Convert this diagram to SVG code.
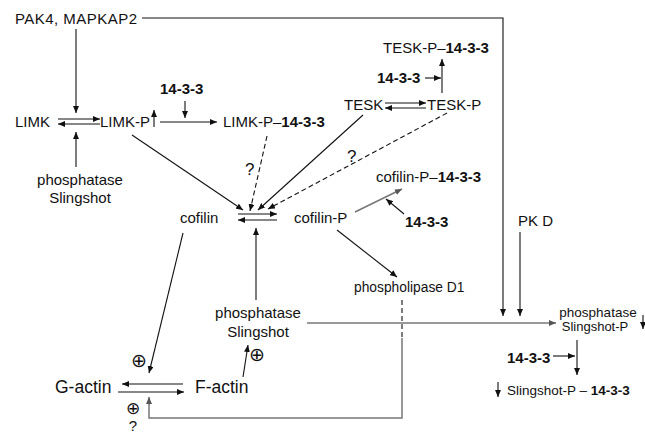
<svg xmlns="http://www.w3.org/2000/svg" width="645" height="433" viewBox="0 0 645 433">
<style>
text{font-family:"Liberation Sans",Arial,sans-serif;font-size:15px;fill:#111}
.b{font-weight:bold}
.q{font-size:17px}
.c{stroke:#111;stroke-width:1.1;fill:none}
.g{stroke:#777;stroke-width:1.5;fill:none}
.d{stroke-dasharray:5,3}
.a{marker-end:url(#ah)}
.ag{marker-end:url(#ahg)}
.sym{font-family:"DejaVu Sans",sans-serif;font-size:19px}
</style>
<defs>
<marker id="ah" markerUnits="userSpaceOnUse" markerWidth="8" markerHeight="6" refX="7" refY="3" orient="auto"><path d="M0,0 L7,3 L0,6 z" fill="#111"/></marker>
<marker id="ahg" markerUnits="userSpaceOnUse" markerWidth="8" markerHeight="6" refX="7" refY="3" orient="auto"><path d="M0,0 L7,3 L0,6 z" fill="#555"/></marker>
</defs>
<rect width="645" height="433" fill="#fff"/>
<g id="connectors">
<polyline class="c a" points="142,18 503,18 503,316"/>
<line class="c a" x1="76" y1="29" x2="76" y2="113"/>
<line class="c a" x1="76" y1="167" x2="76" y2="132"/>
<line class="c a" x1="58" y1="119" x2="100" y2="119"/>
<line class="c a" x1="100" y1="124" x2="58" y2="124"/>
<line class="c a" x1="154" y1="127" x2="154" y2="110"/>
<line class="c a" x1="160" y1="122" x2="217" y2="122"/>
<line class="c a" x1="185" y1="101" x2="185" y2="118"/>
<line class="c a" x1="132" y1="135" x2="243" y2="210"/>
<line class="c d a" x1="267" y1="136" x2="250" y2="211"/>
<line class="c a" x1="363" y1="115" x2="258" y2="210"/>
<line class="c d a" x1="447" y1="113" x2="268" y2="209"/>
<line class="c a" x1="385" y1="103" x2="426" y2="103"/>
<line class="c a" x1="426" y1="108" x2="385" y2="108"/>
<line class="c a" x1="442" y1="93" x2="442" y2="59"/>
<line class="c a" x1="425" y1="78" x2="441" y2="78"/>
<line class="c a" x1="238" y1="214" x2="277" y2="214"/>
<line class="c a" x1="277" y1="220" x2="238" y2="220"/>
<line class="c a" x1="256" y1="300" x2="256" y2="228"/>
<line class="g ag" x1="355" y1="212" x2="402" y2="189"/>
<line class="c a" x1="404" y1="214" x2="386" y2="199"/>
<line class="c a" x1="337" y1="230" x2="397" y2="277"/>
<line class="c d" x1="402" y1="300" x2="402" y2="338"/>
<polyline class="g ag" points="402,338 402,418 149,418 149,397"/>
<line class="g ag" x1="307" y1="323" x2="556" y2="323"/>
<line class="c a" x1="520" y1="232" x2="520" y2="316"/>
<line class="c a" x1="183" y1="233" x2="149" y2="373"/>
<line class="c a" x1="183" y1="384" x2="122" y2="384"/>
<line class="c a" x1="118" y1="392" x2="184" y2="392"/>
<line class="c a" x1="243" y1="377" x2="248" y2="345"/>
<line class="c a" x1="643" y1="315" x2="643" y2="329"/>
<line class="c a" x1="577" y1="340" x2="577" y2="375"/>
<line class="c a" x1="553" y1="356" x2="575" y2="356"/>
<line class="c a" x1="498" y1="382" x2="498" y2="397"/>
</g>
<g id="pak4"><text x="15" y="24" textLength="122">PAK4, MAPKAP2</text></g>
<g id="limk"><text x="15" y="127">LIMK</text></g>
<g id="limk-p"><text x="100" y="127">LIMK-P</text></g>
<g id="p1433a"><text class="b" x="160" y="94">14-3-3</text></g>
<g id="limkp1433"><text x="223" y="127">LIMK-P–<tspan class="b">14-3-3</tspan></text></g>
<g id="slingshot-left"><text x="80" y="185" text-anchor="middle">phosphatase</text><text x="80" y="203" text-anchor="middle">Slingshot</text></g>
<g id="q1"><text class="q" x="245" y="175">?</text></g>
<g id="q2"><text class="q" x="347" y="162">?</text></g>
<g id="tesk"><text x="344" y="110">TESK</text></g>
<g id="tesk-p"><text x="427" y="110">TESK-P</text></g>
<g id="p1433b"><text class="b" x="377" y="83">14-3-3</text></g>
<g id="teskp1433"><text x="383" y="53">TESK-P–<tspan class="b">14-3-3</tspan></text></g>
<g id="cofilin"><text x="180" y="223">cofilin</text></g>
<g id="cofilin-p"><text x="294" y="223">cofilin-P</text></g>
<g id="cofilinp1433"><text x="376" y="182">cofilin-P–<tspan class="b">14-3-3</tspan></text></g>
<g id="p1433c"><text class="b" x="405" y="227">14-3-3</text></g>
<g id="pkd"><text x="518" y="226">PK D</text></g>
<g id="pld1"><text x="354" y="292" style="font-size:13.8px">phospholipase D1</text></g>
<g id="slingshot-mid"><text x="258" y="318" text-anchor="middle">phosphatase</text><text x="258" y="337" text-anchor="middle">Slingshot</text></g>
<g id="slingshot-p"><text x="598" y="317" text-anchor="middle" style="font-size:13.5px">phosphatase</text><text x="595" y="331" text-anchor="middle" style="font-size:13px">Slingshot-P</text></g>
<g id="p1433d"><text class="b" x="507" y="363">14-3-3</text></g>
<g id="sspp1433"><text x="507" y="395" style="font-size:13.5px">Slingshot-P – <tspan class="b">14-3-3</tspan></text></g>
<g id="g-actin"><text x="55" y="393" style="font-size:17.5px">G-actin</text></g>
<g id="f-actin"><text x="195" y="393" style="font-size:17.5px">F-actin</text></g>
<g id="plus1"><text class="sym" x="139" y="367" text-anchor="middle">⊕</text></g>
<g id="plus2"><text class="sym" x="257" y="361" text-anchor="middle">⊕</text></g>
<g id="plus3"><text class="sym" x="133" y="414" text-anchor="middle" style="font-size:17px">⊕</text><text x="133" y="431" text-anchor="middle">?</text></g>
</svg>
